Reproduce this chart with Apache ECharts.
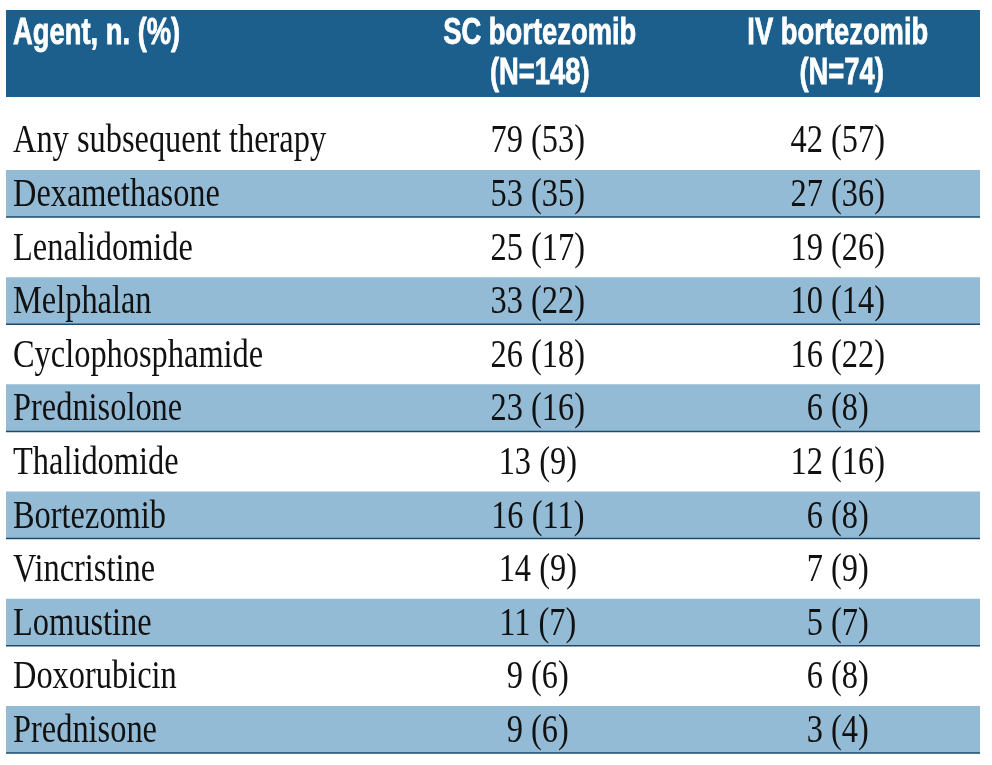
<!DOCTYPE html>
<html>
<head>
<meta charset="utf-8">
<script src="https://cdn.jsdelivr.net/npm/echarts@6/dist/echarts.min.js"></script>
<style>html,body{margin:0;padding:0;background:#fff;}#c{width:992px;height:765px;}</style>
</head>
<body>
<div id="c"></div>
<script>
const agents = ['Any subsequent therapy','Dexamethasone','Lenalidomide','Melphalan','Cyclophosphamide','Prednisolone','Thalidomide','Bortezomib','Vincristine','Lomustine','Doxorubicin','Prednisone'];
const scN   = [79,53,25,33,26,23,13,16,14,11,9,9];
const scPct = [53,35,17,22,18,16,9,11,9,7,6,6];
const ivN   = [42,27,19,10,16,6,12,6,7,5,6,3];
const ivPct = [57,36,26,14,22,8,16,8,9,7,8,4];
const headerLabel = 'Agent, n. (%)';
const headerSC = ['SC bortezomib','(N=148)'];
const headerIV = ['IV bortezomib','(N=74)'];

const HEADER_BG = '#1c5f8c';
const BAND_BG = '#93bbd6';
const LINE_C = '#1d4a6c';
const bodyFont = '40px "Liberation Serif"';
const bodyScale = 0.81;
const headFont = 'bold 36px "Liberation Sans"';
const headScale = 0.76;
const colX = [0.0072, 0.546, 0.854]; // fractions of table width
const colAlign = ['left','center','center'];

const chart = echarts.init(document.getElementById('c'), null, {renderer:'canvas'});

function txt(x, y, text, font, scale, align, fill, stroke){
  const st = {x:0, y:0, text:text, font:font, fill:fill, align:align, verticalAlign:'middle'};
  if (stroke) { st.stroke = fill; st.lineWidth = stroke; }
  return {type:'text', x:x, y:y, scaleX:scale, scaleY:1, style:st};
}

const rows = agents.map((a,i)=>[0.5, i]);

const option = {
  animation:false,
  backgroundColor:'#ffffff',
  grid:{left:6, right:12, top:112.6, height:643.2},
  xAxis:{type:'value', min:0, max:1, show:false},
  yAxis:{type:'category', data:agents, inverse:true, show:false},
  graphic:[
    {type:'rect', left:6, top:10, shape:{width:974, height:87}, style:{fill:HEADER_BG}, silent:true}
  ],
  series:[{
    type:'custom',
    data:rows,
    renderItem:function(params, api){
      const i = api.value(1);
      const cs = params.coordSys;
      const c = api.coord([0, i]);
      const bh = api.size([0,1])[1];
      const cy = c[1];
      const children = [];
      if (i === 0) {
        const hx = cs.x;
        const l1 = 34, l2 = 74;
        children.push(txt(hx + cs.width*colX[0], l1, headerLabel, headFont, headScale, 'left', '#ffffff', 0.8));
        children.push(txt(hx + cs.width*0.548, l1, headerSC[0], headFont, headScale, 'center', '#ffffff', 0.8));
        children.push(txt(hx + cs.width*0.548, l2, headerSC[1], headFont, headScale, 'center', '#ffffff', 0.8));
        children.push(txt(hx + cs.width*0.854, l1, headerIV[0], headFont, headScale, 'center', '#ffffff', 0.8));
        children.push(txt(hx + cs.width*0.858, l2, headerIV[1], headFont, headScale, 'center', '#ffffff', 0.8));
      }
      if (i % 2 === 1) {
        const top = cy - bh*0.43, bot = cy + bh*0.448;
        children.push({type:'rect', shape:{x:cs.x, y:top, width:cs.width, height:bot-top}, style:{fill:BAND_BG}});
        children.push({type:'line', shape:{x1:cs.x, y1:bot, x2:cs.x+cs.width, y2:bot}, style:{stroke:LINE_C, lineWidth:1.5}});
      }
      const vals = [agents[i], scN[i]+' ('+scPct[i]+')', ivN[i]+' ('+ivPct[i]+')'];
      for (let k=0;k<3;k++){
        children.push(txt(cs.x + cs.width*colX[k], cy + 2.5, vals[k], bodyFont, bodyScale, colAlign[k], '#111111'));
      }
      return {type:'group', children:children};
    }
  }]
};
chart.setOption(option);
</script>
</body>
</html>
